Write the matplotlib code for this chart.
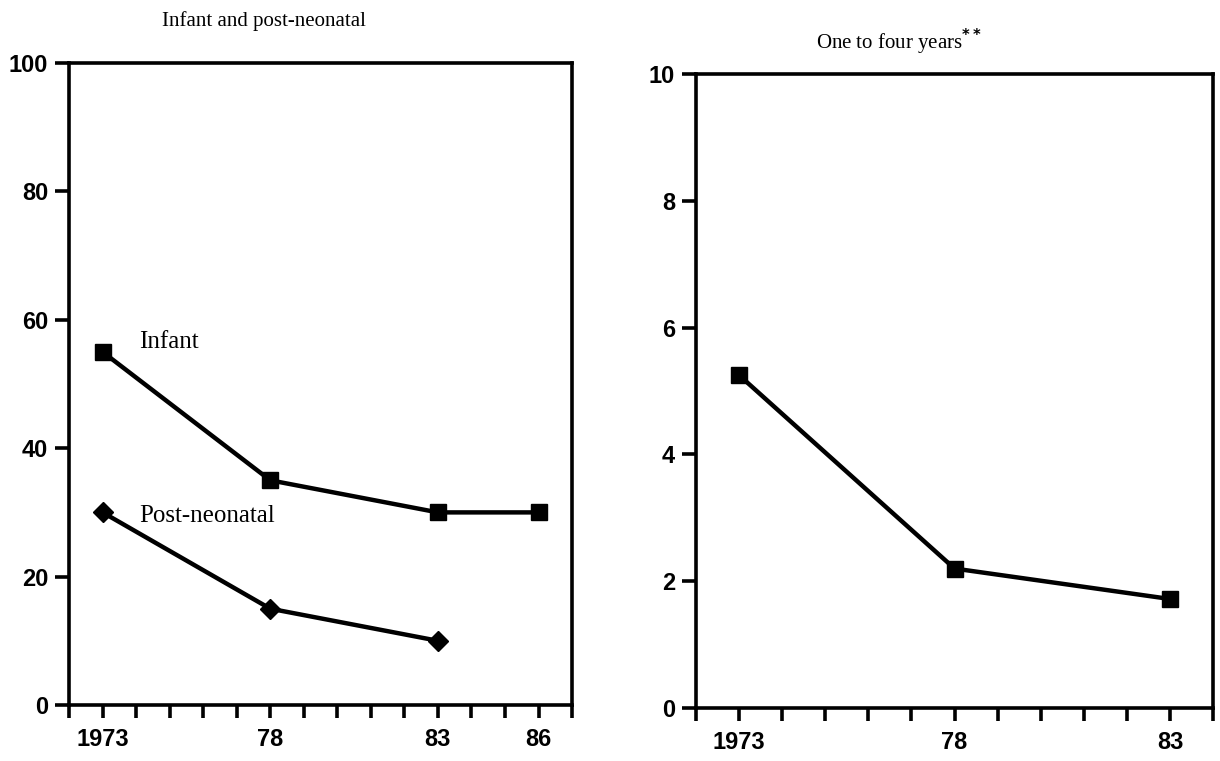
import matplotlib
matplotlib.use("Agg")
import matplotlib.pyplot as plt

# Data
years_infant = [1973, 1978, 1983, 1986]
infant = [55, 35, 30, 30]
years_post = [1973, 1978, 1983]
post_neonatal = [30, 15, 10]
years_child = [1973, 1978, 1983]
one_to_four = [5.25, 2.2, 1.72]

left_ticks = [1973, 1978, 1983, 1986]
left_ticklabels = ["1973", "78", "83", "86"]
right_ticks = [1973, 1978, 1983]
right_ticklabels = ["1973", "78", "83"]

serif = "Liberation Serif"
sans = "Liberation Sans"

fig = plt.figure(figsize=(12.2, 7.61), dpi=100)
ax1 = fig.add_axes([0.0566, 0.0736, 0.4123, 0.8436])
ax2 = fig.add_axes([0.5705, 0.0696, 0.4238, 0.8331])


def style_axis(ax, xmin, xmax, ymax, yticks, ticks, ticklabels):
    ax.set_xlim(xmin, xmax)
    ax.set_ylim(0, ymax)
    for s in ax.spines.values():
        s.set_linewidth(2.6)
    # one small tick per year, labels only on some
    ax.set_xticks(range(xmin, xmax + 1))
    labels = []
    for y in range(xmin, xmax + 1):
        labels.append(ticklabels[ticks.index(y)] if y in ticks else "")
    ax.set_xticklabels(labels, fontfamily=sans, fontweight="bold", fontsize=17)
    ax.set_yticks(yticks)
    ax.set_yticklabels([str(v) for v in yticks], fontfamily=sans,
                       fontweight="bold", fontsize=17)
    ax.tick_params(axis="x", direction="out", length=9.5, width=2.6, pad=7)
    ax.tick_params(axis="y", direction="out", length=10, width=2.6, pad=5)


style_axis(ax1, 1972, 1987, 100, [0, 20, 40, 60, 80, 100], left_ticks, left_ticklabels)
style_axis(ax2, 1972, 1984, 10, [0, 2, 4, 6, 8, 10], right_ticks, right_ticklabels)

# Left panel
ax1.plot(years_infant, infant, color="black", lw=3.2, marker="s", ms=12)
ax1.plot(years_post, post_neonatal, color="black", lw=3.2, marker="D", ms=10)
ax1.text(1974.1, 56.5, "Infant", fontfamily=serif, fontsize=18, va="center")
ax1.text(1974.1, 29.5, "Post-neonatal", fontfamily=serif, fontsize=18, va="center")

# Right panel
ax2.plot(years_child, one_to_four, color="black", lw=3.2, marker="s", ms=12)

fig.text(0.216, 0.972, "Infant and post-neonatal", fontfamily=serif,
         fontsize=15, ha="center", va="center")
fig.text(0.737, 0.945, r"One to four years$^{\mathbf{**}}$", fontfamily=serif,
         fontsize=15, ha="center", va="center")

fig.savefig("out.png", dpi=100)
